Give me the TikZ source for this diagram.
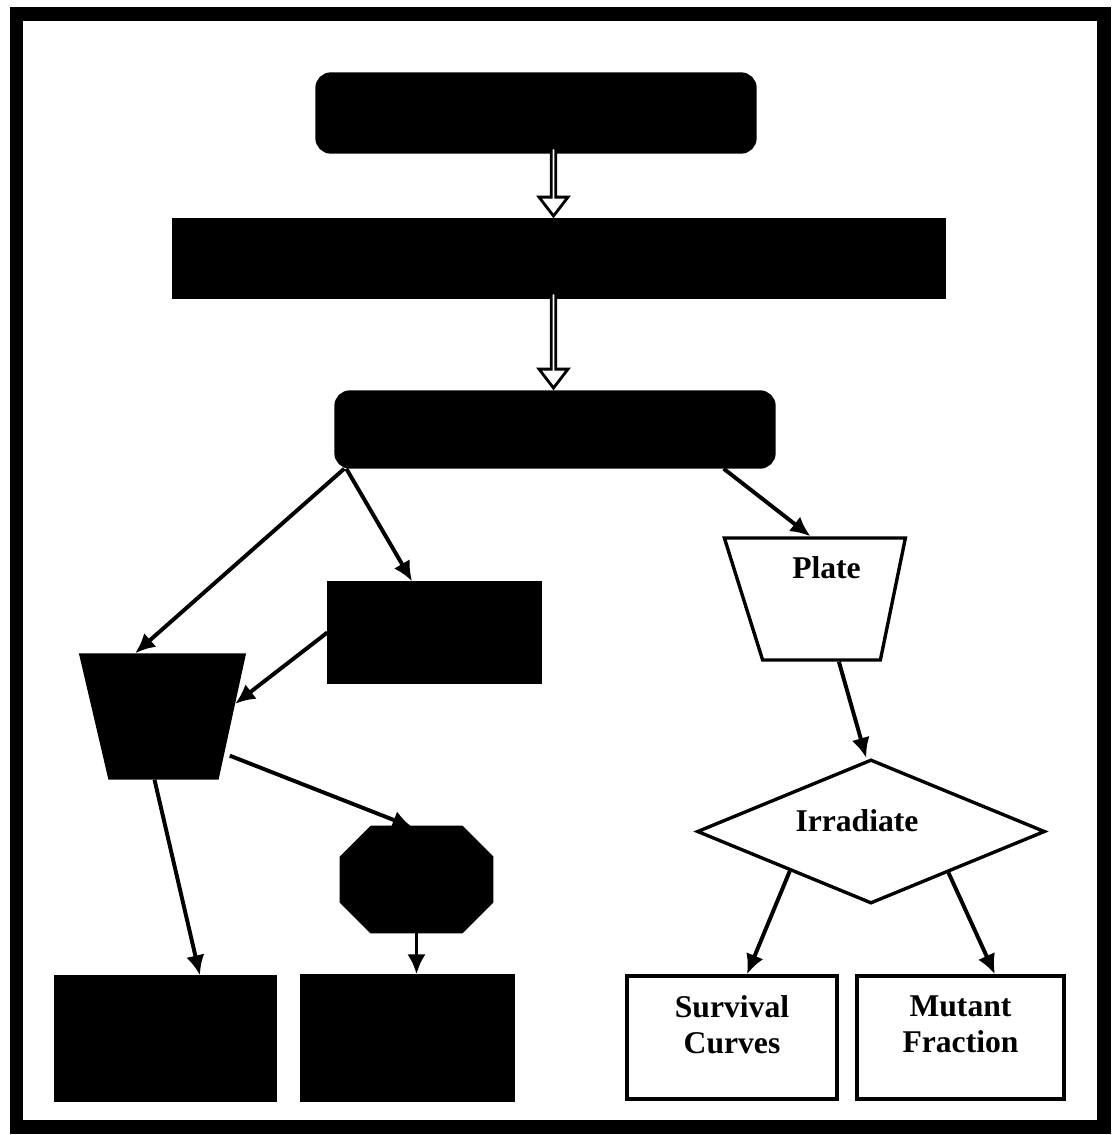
\documentclass[tikz,border=0pt]{standalone}
\usepackage{fontspec}
\setmainfont{Liberation Serif}
\usepackage{tikz}
\usetikzlibrary{shapes.geometric,shapes.arrows}
\usetikzlibrary{arrows.meta,calc}
\tikzstyle{flow}=[
  >={Latex[length=5mm,width=4.6mm]}, line width=2.4pt,
  font=\fontsize{22.5}{25.6}\selectfont\bfseries
]
\tikzstyle{blackbox}=[
  draw,fill=black,inner sep=0pt
]
\tikzstyle{roundbox}=[
  blackbox,rounded corners=3.5mm
]
\tikzstyle{blacktrap}=[
  blackbox,trapezium,trapezium left angle=76,trapezium right angle=75,
  shape border rotate=180,trapezium stretches=true,inner sep=2pt
]
\tikzstyle{octframe}=[
  inner sep=0pt
]
\tikzstyle{whitebox}=[
  draw,fill=white,inner sep=0pt
]
\tikzstyle{platebox}=[
  whitebox,trapezium,trapezium left angle=78,trapezium right angle=72,
  shape border rotate=180,trapezium stretches=true,inner sep=2pt
]
\tikzstyle{choice}=[
  whitebox,diamond,aspect=2.4,inner sep=2pt
]
\tikzstyle{hollow}=[
  single arrow,draw,fill=white,line width=2pt,inner sep=0pt,
  minimum width=7.25mm,single arrow head extend=2mm,
  single arrow tip angle=75,rotate=-90,anchor=tip
]
\tikzstyle{link}=[->,line width=2.8pt]
\begin{document}
\begin{tikzpicture}[flow]
  \def\cut{0.75}
  \useasboundingbox (0,0) rectangle (27.85,-28.375);
  \draw [line width=0.33cm] (0.4125,-0.35) rectangle (27.6,-28.175);

  % top chain
  \node (top) at (13.4,-2.825) [roundbox,minimum width=10.95cm,minimum height=1.95cm] {};
  \node (wide) at (13.975,-6.4625) [blackbox,minimum width=19.25cm,minimum height=1.925cm] {};
  \node (mid) at (13.875,-10.7375) [roundbox,minimum width=10.95cm,minimum height=1.875cm] {};

  % left branch
  \node (sub) at (10.8625,-15.8125) [blackbox,minimum width=5.275cm,minimum height=2.475cm] {};
  \node (trapb) at (4.0875,-17.9125) [blacktrap,minimum width=4.075cm,minimum height=3.075cm] {};
  \node (oct) at (10.4125,-21.9875) [octframe,minimum width=3.675cm,minimum height=2.525cm] {};
  \fill [draw] ($(oct.north west)+(\cut,0)$) -- ($(oct.north east)+(-\cut,0)$)
    -- ($(oct.north east)+(0,-\cut)$) -- ($(oct.south east)+(0,\cut)$)
    -- ($(oct.south east)+(-\cut,0)$) -- ($(oct.south west)+(\cut,0)$)
    -- ($(oct.south west)+(0,\cut)$) -- ($(oct.north west)+(0,-\cut)$) -- cycle;
  \node (resa) at (4.1375,-25.9625) [blackbox,minimum width=5.475cm,minimum height=3.075cm] {};
  \node (resb) at (10.1875,-25.95) [blackbox,minimum width=5.275cm,minimum height=3.1cm] {};

  % right branch
  \node (plate) at (20.5375,-14.975) [platebox,minimum width=4.525cm,minimum height=3.05cm,
    label={[xshift=0.125cm,yshift=0.775cm]center:Plate}] {};
  \node (irr) at (21.775,-20.7875) [choice,minimum width=8.7cm,minimum height=3.6cm,
    label={[xshift=-0.35cm,yshift=0.28cm]center:Irradiate}] {};
  \node (surv) at (18.3,-25.9375) [whitebox,minimum width=5.25cm,minimum height=3.075cm,
    label={[align=center,yshift=0.33cm]center:Survival\\Curves}] {};
  \node (mut) at (24.0125,-25.9375) [whitebox,minimum width=5.175cm,minimum height=3.075cm,
    label={[align=center,yshift=0.33cm]center:Mutant\\Fraction}] {};

  % hollow arrows
  \path ($(top.south)+(0.4375,0)$) coordinate (t1)
    -- node[hollow,pos=1,minimum height=1.7cm] {} (t1 |- wide.north);
  \path ($(wide.south)+(-0.1375,0)$) coordinate (t2)
    -- node[hollow,pos=1,minimum height=2.375cm] {} (t2 |- mid.north);

  % connectors
  \draw [link] ($(mid.south west)+(0.25,0)$) -- ($(trapb.north)+(-0.71,0)$);
  \draw [link] ($(mid.south west)+(0.3,0)$) -- ($(sub.north)+(-0.56,0)$);
  \draw [link] ($(mid.south east)+(-1.3,0)$) -- ($(plate.north)+(-0.275,0)$);
  \draw [link] (sub.west) -- (trapb.10);
  \draw [link] ($(trapb.-33)+(0.15,0)$) -- ($(oct.north)+(-0.1,0)$);
  \draw [link] ($(trapb.south)+(-0.225,0)$) -- ($(resa.north)+(0.86,0)$);
  \draw [link] (oct.south) -- (oct.south |- resb.north);
  \draw [link] ($(plate.south)+(0.435,0)$) -- ($(irr.north)+(-0.12,0)$);
  \draw [link] (irr.206) -- ($(surv.north)+(0.375,0)$);
  \draw [link] (irr.-28) -- ($(mut.north)+(0.86,0)$);
\end{tikzpicture}
\end{document}
